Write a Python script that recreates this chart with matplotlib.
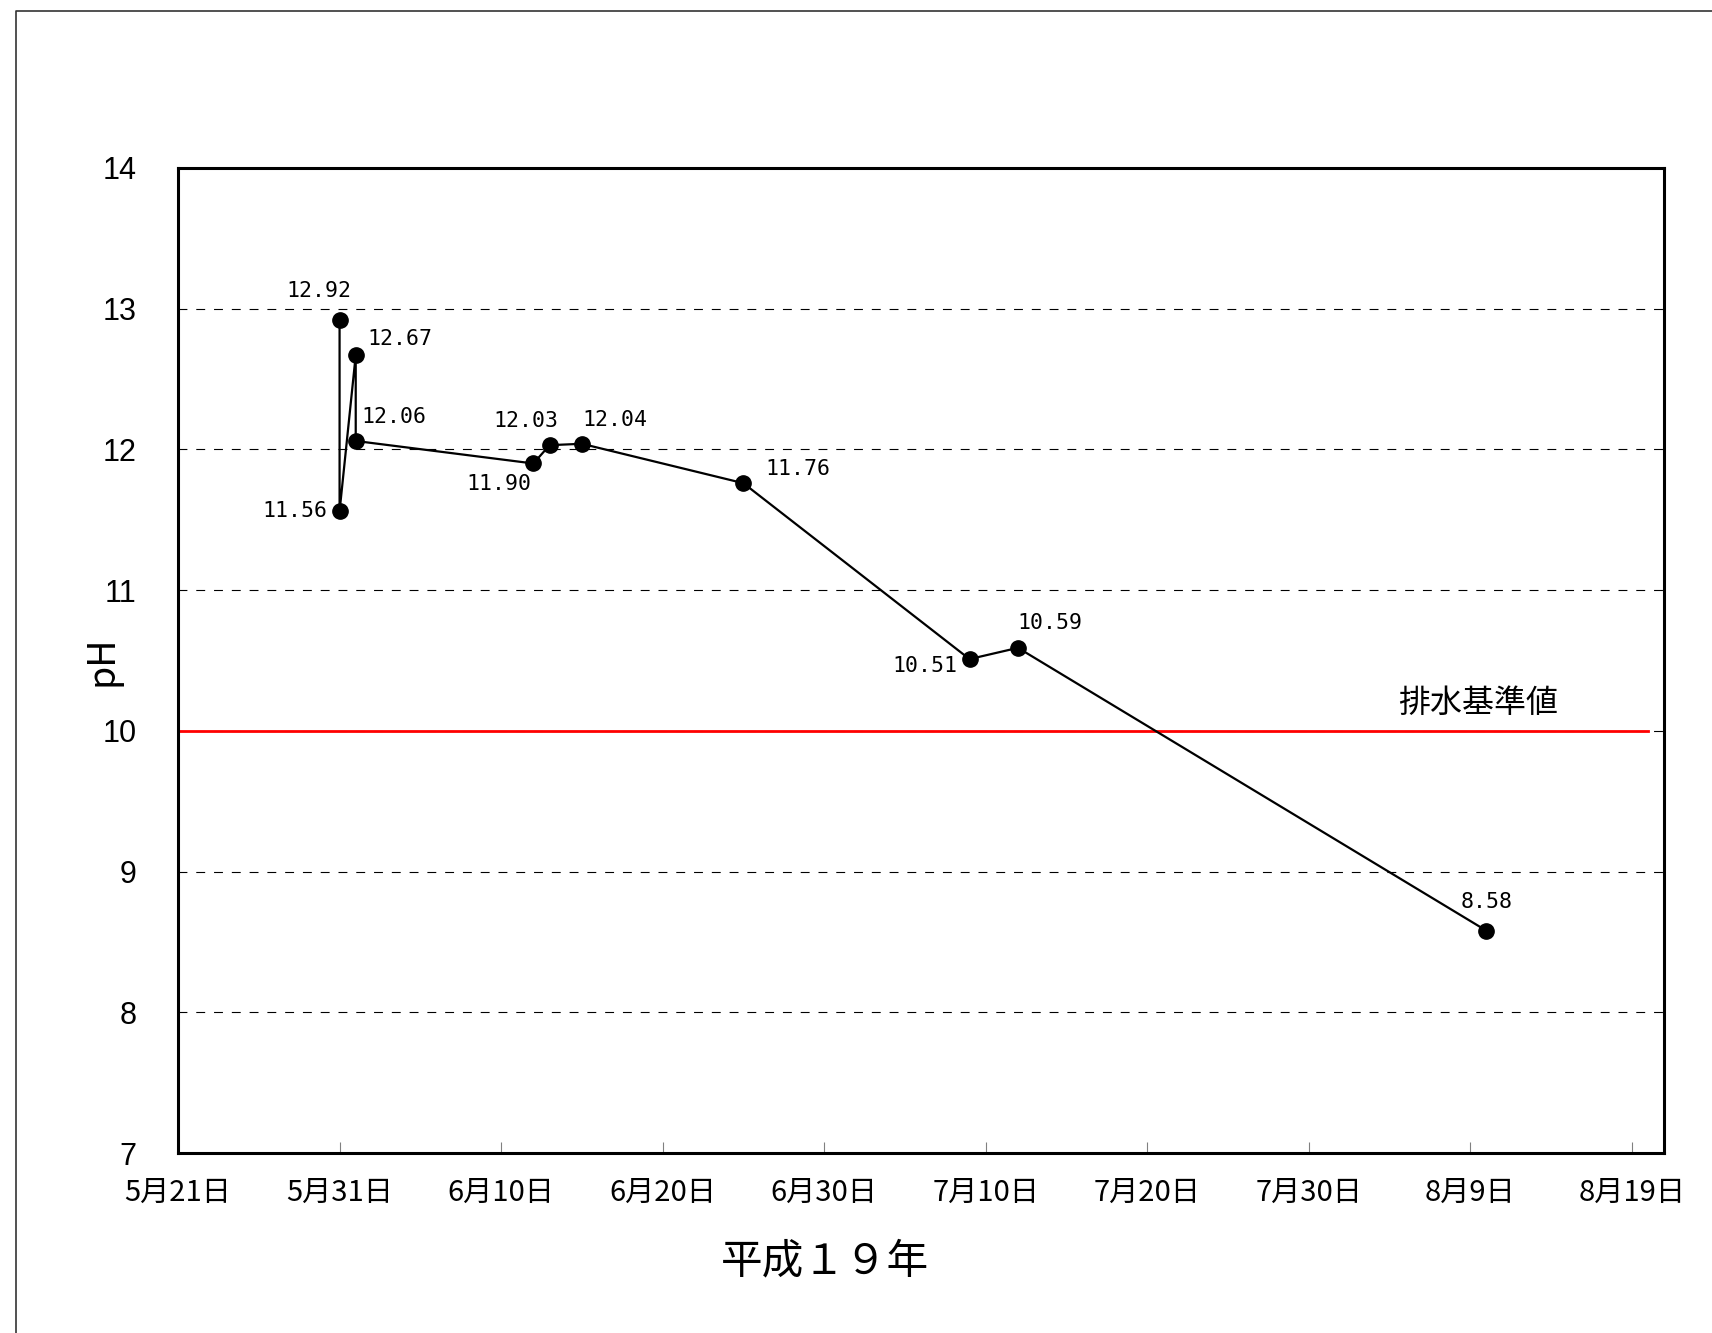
import numpy as np
import pandas as pd
import matplotlib
matplotlib.use('Agg')
import matplotlib.pyplot as plt
import matplotlib.dates as mdates
from matplotlib.lines import Line2D

plt.rcParams['font.family'] = ['Liberation Sans', 'Noto Sans CJK JP', 'DejaVu Sans']

# 測定データ (平成19年)
dates = pd.to_datetime(['2007-05-31', '2007-05-31', '2007-06-01', '2007-06-01',
                        '2007-06-12', '2007-06-13', '2007-06-15', '2007-06-25',
                        '2007-07-09', '2007-07-12', '2007-08-10'])
ph = [12.92, 11.56, 12.67, 12.06, 11.90, 12.03, 12.04, 11.76, 10.51, 10.59, 8.58]
# ラベル位置のずらし (pixel)
offsets = [(-21, 29), (-45, 0), (44, 16), (38, 24), (-35, -21), (-24, 24),
           (33, 24), (54, 14), (-45, -7), (32, 25), (0, 29)]

# 排水基準値
std_dates = pd.to_datetime(['2007-05-21', '2007-08-20'])
std_value = [10, 10]

tick_dates = pd.date_range('2007-05-21', periods=10, freq='10D')
x_min, x_max = pd.Timestamp('2007-05-21'), pd.Timestamp('2007-08-21')

fig = plt.figure(figsize=(17.12, 13.33), dpi=100)
ax = fig.add_axes([0.104, 0.135, 0.868, 0.739])

# 外枠
fig.add_artist(Line2D([0.0093, 0.0093, 1.0], [0.0, 0.9917, 0.9917],
                      transform=fig.transFigure, color='#333333', lw=1.2))

for y in [8, 9, 10, 11, 12, 13]:
    ax.axhline(y, color='black', lw=0.8, ls=(0, (8, 8)), zorder=1)

ax.plot(std_dates, std_value, color='red', lw=2, zorder=2)
ax.text(pd.Timestamp('2007-08-09 12:00'), 10.2, '排水基準値', fontsize=23,
        family=['Noto Sans CJK JP'], ha='center', va='center')

ax.plot(dates, ph, color='black', lw=1.6, marker='o', markersize=11, zorder=3)
for d, v, (dx, dy) in zip(dates, ph, offsets):
    ax.annotate(f'{v:.2f}', (d, v), xytext=(dx, dy), textcoords='offset pixels',
                ha='center', va='center', fontsize=15.5, family=['DejaVu Sans Mono'])

ax.set_xlim(x_min, x_max)
ax.set_ylim(7, 14)
ax.set_yticks(range(7, 15))
ax.set_xticks(tick_dates)
ax.set_xticklabels([f'{d.month}月{d.day}日' for d in tick_dates],
                   family=['Liberation Sans Narrow', 'Noto Sans CJK JP'])
ax.tick_params(axis='x', direction='in', length=8, width=0.8, color='gray',
               labelsize=21, pad=18)
ax.tick_params(axis='y', length=0, labelsize=22, pad=30)
for s in ax.spines.values():
    s.set_linewidth(2.2)

ax.set_ylabel('pH', fontsize=27, family=['Noto Sans CJK JP'])
ax.yaxis.set_label_coords(-0.038, 0.5)
ax.set_xlabel('平成１９年', fontsize=30, family=['Noto Sans CJK JP'])
ax.xaxis.set_label_coords(0.435, -0.09)

fig.savefig('out.png', dpi=100)
